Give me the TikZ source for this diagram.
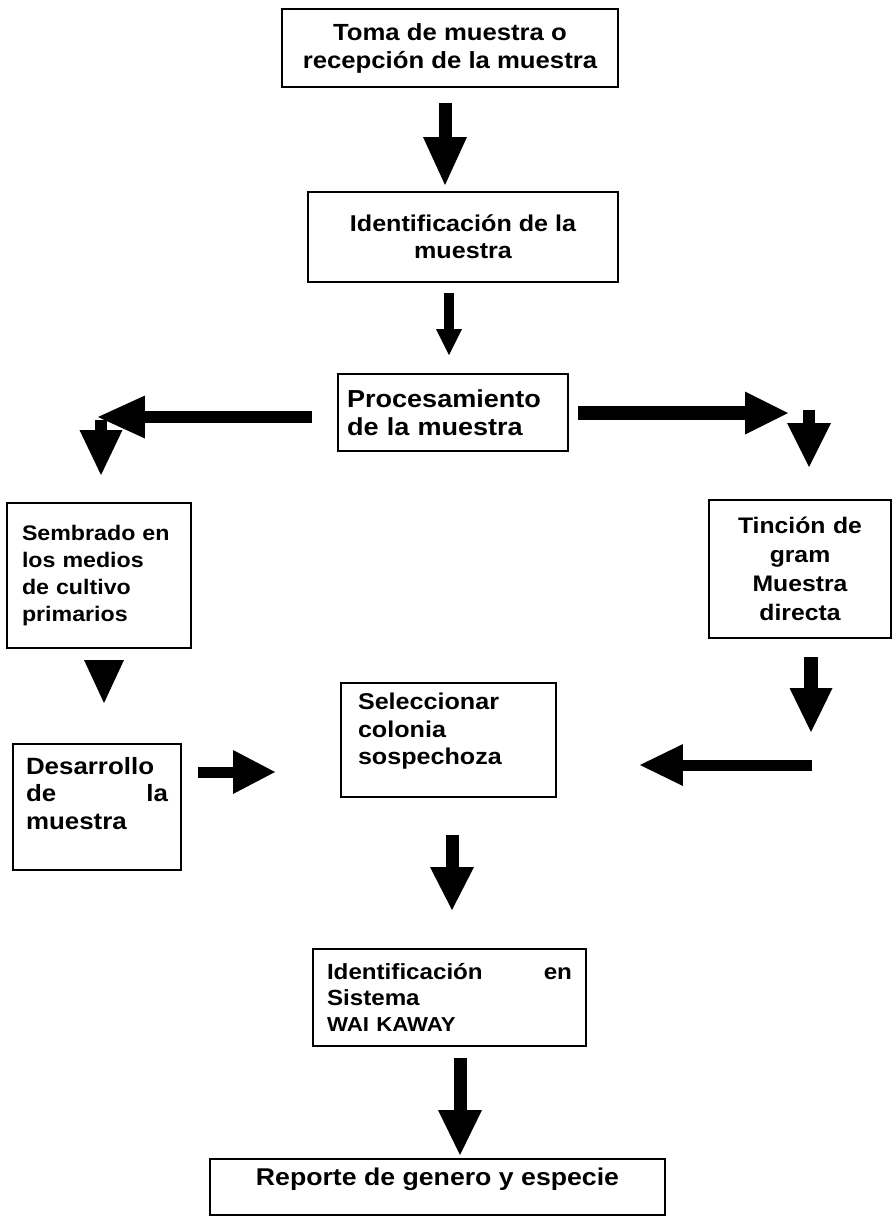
\documentclass[tikz,border=0pt]{standalone}
\usepackage{fontspec}
\setmainfont{Liberation Sans}[FakeStretch=1.1]
\usetikzlibrary{arrows.meta}

\tikzset{
  caja/.style={draw, line width=0.9pt, inner sep=0pt, font=\bfseries\fontsize{13}{15.5}\selectfont},
  flecha/.style n args={3}{line width=#1, -{Triangle[length=#2, width=#3, line width=0pt]}},
}

\begin{document}
\begin{tikzpicture}[x=0.02cm, y=-0.02cm]
\useasboundingbox (0,0) rectangle (892,1218);

% cajas
\node[caja, minimum width=6.72cm, minimum height=1.56cm, align=center, font=\bfseries\fontsize{13.3}{15.9}\selectfont] (toma) at (450,48) {Toma de muestra o\\recepción de la muestra};
\node[caja, minimum width=6.2cm, minimum height=1.8cm, align=center] (ident) at (463,237) {Identificación de la\\muestra};
\node[caja, minimum width=4.6cm, minimum height=1.54cm, inner xsep=0.18cm, text width=4.24cm, align=left, font=\bfseries\fontsize{14}{16.2}\selectfont] (proc) at (453,412.5) {Procesamiento\\de la muestra};
\node[caja, minimum width=3.68cm, minimum height=2.9cm, inner xsep=0.3cm, text width=3.08cm, align=left, font=\bfseries\fontsize{12}{15.4}\selectfont] (semb) at (99,575.5) {Sembrado en\\los medios\\de cultivo\\primarios};
\node[caja, minimum width=3.64cm, minimum height=2.76cm, text width=3.3cm, align=center, font=\bfseries\fontsize{12.8}{16.5}\selectfont] (tinc) at (800,569) {Tinción de\\gram\\Muestra\\directa};
\node[caja, minimum width=3.36cm, minimum height=2.52cm, inner xsep=0.26cm, text width=2.84cm, align=left, font=\bfseries\fontsize{13.4}{15.6}\selectfont] (desa) at (97,807) {Desarrollo\\de \hfill la\\muestra\rule[-0.55cm]{0pt}{0pt}};
\node[caja, minimum width=4.3cm, minimum height=2.28cm, inner xsep=0.34cm, text width=3.62cm, align=left] (sele) at (448.5,740) {Seleccionar\\colonia\\sospechoza\rule[-0.45cm]{0pt}{0pt}};
\node[caja, minimum width=5.46cm, minimum height=1.94cm, inner xsep=0.28cm, text width=4.9cm, align=left, font=\bfseries\fontsize{12.5}{14.6}\selectfont] (iden) at (449.5,997.5) {Identificación \hfill en\\Sistema\\{\fontsize{11.5}{14.6}\selectfont WAI KAWAY}};
\node[caja, minimum width=9.1cm, minimum height=1.12cm, align=center, font=\bfseries\fontsize{13.8}{15}\selectfont] (repo) at (437.5,1187) {Reporte de genero y especie\rule[-0.4cm]{0pt}{0pt}};

% puntas de flechas
\coordinate (f1a) at (445,103);  \coordinate (f1b) at (445,185);
\coordinate (f2a) at (449,293);  \coordinate (f2b) at (449,355);
\coordinate (f3a) at (312,417);  \coordinate (f3b) at (98,417);
\coordinate (f3c) at (101,420);  \coordinate (f3d) at (101,475);
\coordinate (f4a) at (578,413);  \coordinate (f4b) at (788,413);
\coordinate (f4c) at (809,410);  \coordinate (f4d) at (809,467);
\coordinate (f5a) at (104,660);  \coordinate (f5b) at (104,703);
\coordinate (f6a) at (198,772);  \coordinate (f6b) at (275,772);
\coordinate (f7a) at (811,657);  \coordinate (f7b) at (811,732);
\coordinate (f8a) at (812,765);  \coordinate (f8b) at (640,765);
\coordinate (f9a) at (452,835);  \coordinate (f9b) at (452,910);
\coordinate (f10a) at (460,1058); \coordinate (f10b) at (460,1155);

% flechas
\draw[flecha={0.26cm}{0.96cm}{0.88cm}] (f1a) -- (f1b);
\draw[flecha={0.2cm}{0.52cm}{0.52cm}] (f2a) -- (f2b);
\draw[flecha={0.24cm}{0.9cm}{0.86cm}] (f3c) -- (f3d);
\draw[flecha={0.24cm}{0.94cm}{0.86cm}] (f3a) -- (f3b);
\draw[flecha={0.28cm}{0.86cm}{0.86cm}] (f4a) -- (f4b);
\draw[flecha={0.24cm}{0.88cm}{0.88cm}] (f4c) -- (f4d);
\draw[flecha={0.2cm}{0.86cm}{0.8cm}] (f5a) -- (f5b);
\draw[flecha={0.22cm}{0.84cm}{0.88cm}] (f6a) -- (f6b);
\draw[flecha={0.28cm}{0.88cm}{0.86cm}] (f7a) -- (f7b);
\draw[flecha={0.22cm}{0.86cm}{0.84cm}] (f8a) -- (f8b);
\draw[flecha={0.26cm}{0.86cm}{0.88cm}] (f9a) -- (f9b);
\draw[flecha={0.26cm}{0.9cm}{0.88cm}] (f10a) -- (f10b);

\end{tikzpicture}
\end{document}
